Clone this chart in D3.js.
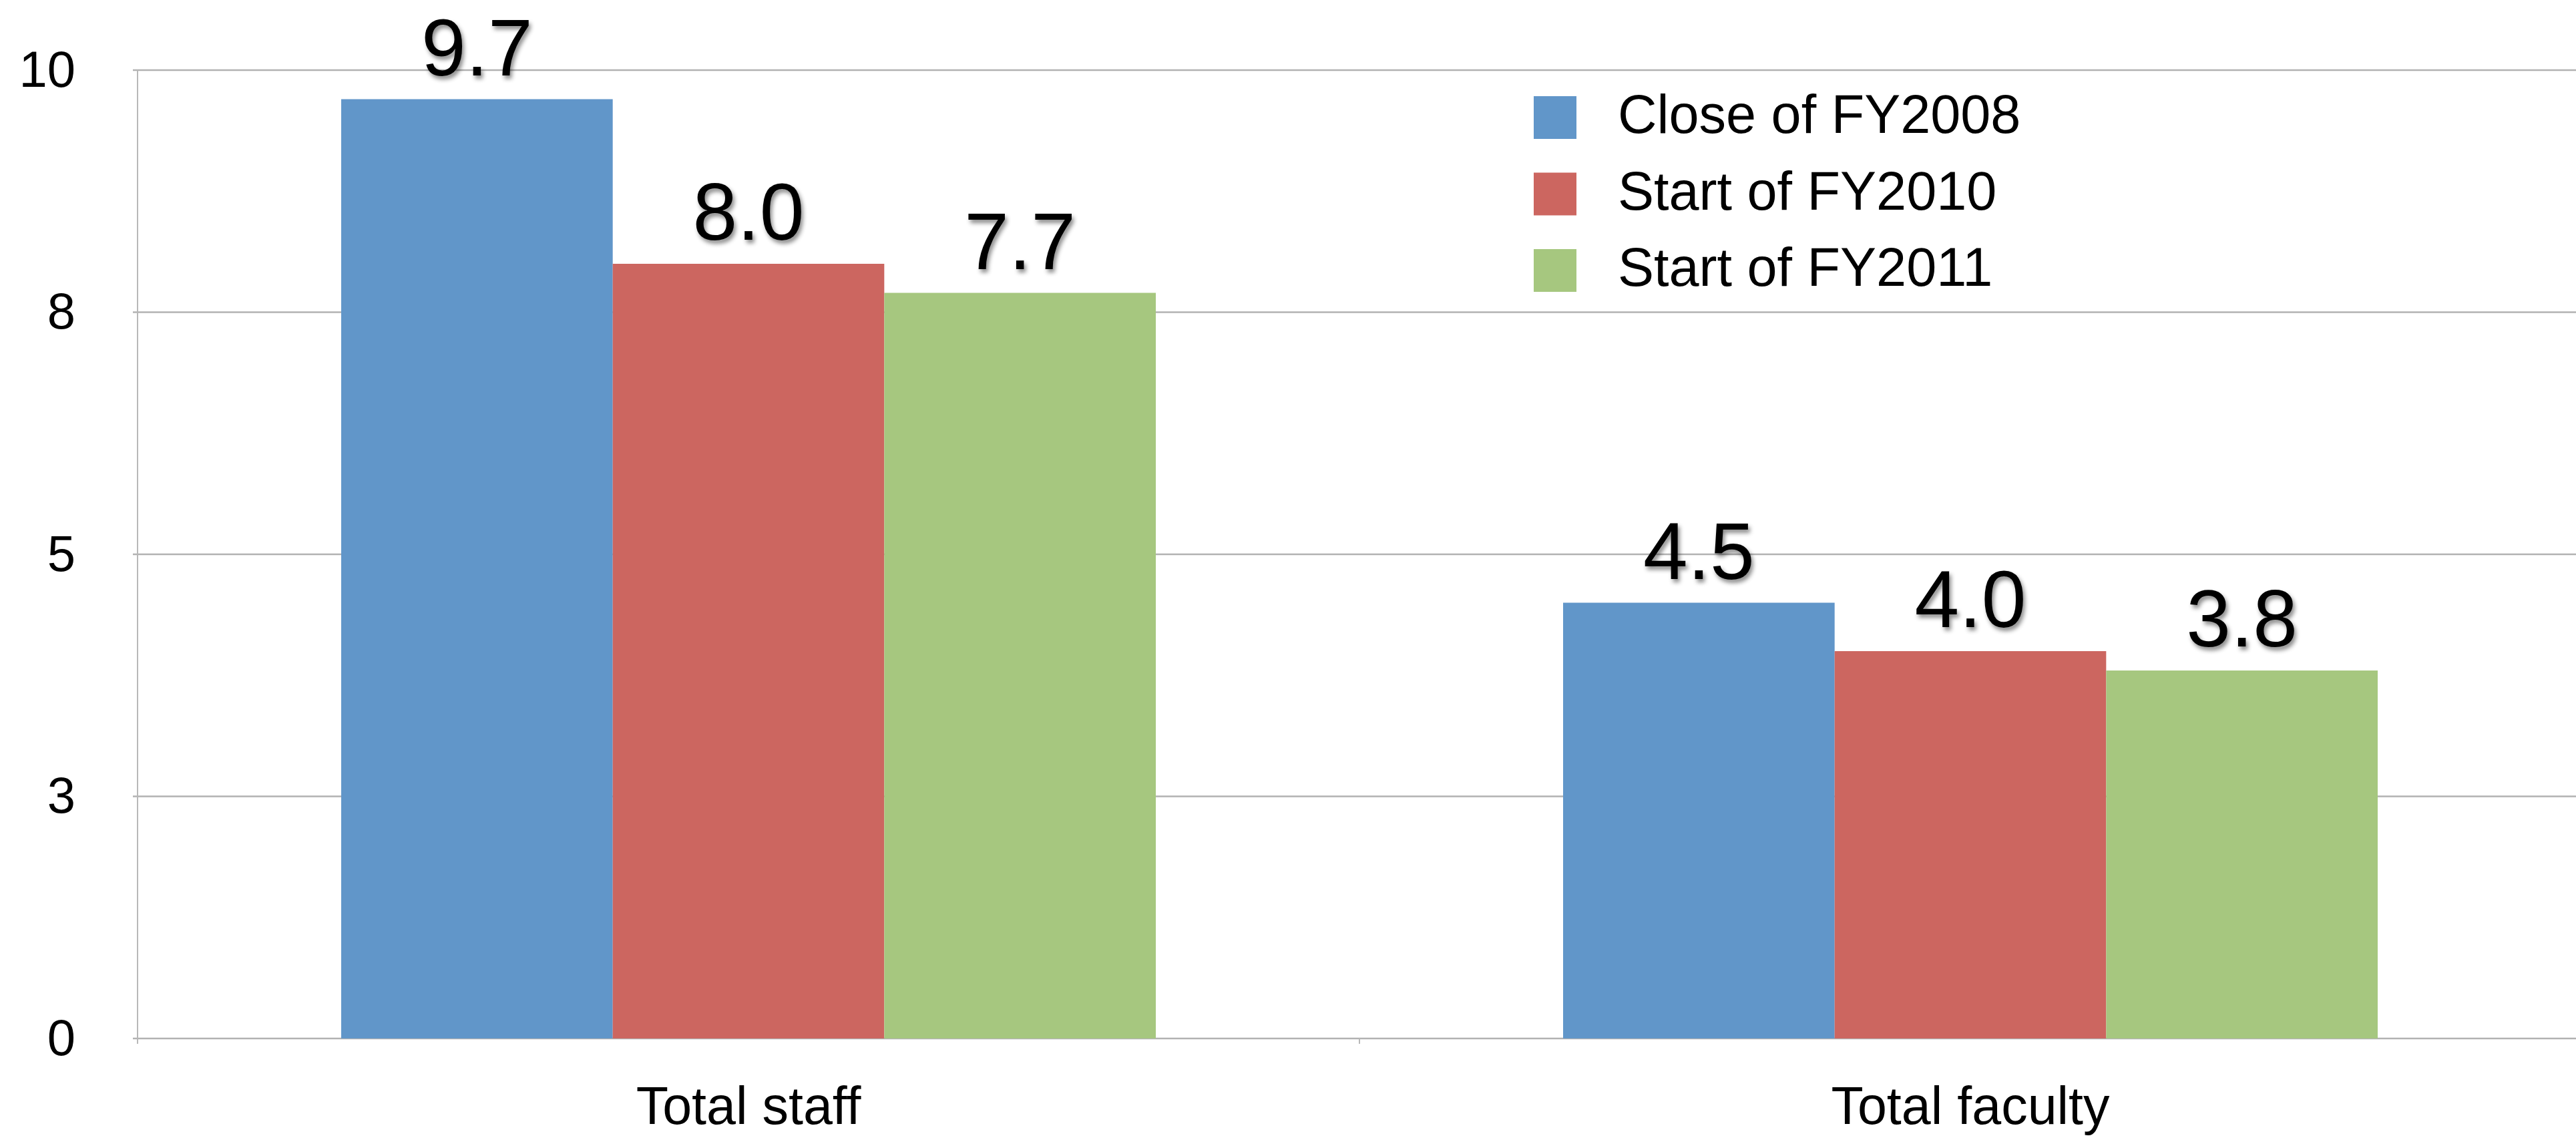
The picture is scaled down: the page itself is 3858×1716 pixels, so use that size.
<!DOCTYPE html>
<html>
<head>
<meta charset="utf-8">
<script src="https://cdn.jsdelivr.net/npm/d3@7"></script>
<style>
  body { margin: 0; background: #fff; }
  svg { display: block; font-family: "Liberation Sans", Arial, Helvetica, sans-serif; }
</style>
</head>
<body>
<div id="chart"></div>
<script>
// chart data
var categories = ["Total staff", "Total faculty"];
var seriesNames = ["Close of FY2008", "Start of FY2010", "Start of FY2011"];
var closeFY2008 = [9.7, 4.5];
var startFY2010 = [8.0, 4.0];
var startFY2011 = [7.7, 3.8];
var yTicks = [0, 2.5, 5, 7.5, 10];
var yTickLabels = ["0", "3", "5", "8", "10"];
var seriesColors = ["#6196c9", "#cc6660", "#a6c77f"];

var width = 3858, height = 1716;
var margin = { left: 206, top: 105, bottom: 161 };
var seriesValues = [closeFY2008, startFY2010, startFY2011];

var svg = d3.select("#chart").append("svg")
  .attr("width", width)
  .attr("height", height);

// soft shadow for the value labels
var defs = svg.append("defs");
defs.append("filter")
  .attr("id", "shadow")
  .attr("x", "-20%").attr("y", "-20%")
  .attr("width", "140%").attr("height", "140%")
  .append("feDropShadow")
  .attr("dx", 3).attr("dy", 5)
  .attr("stdDeviation", 3)
  .attr("flood-color", "#000")
  .attr("flood-opacity", 0.45);

var y = d3.scaleLinear()
  .domain([0, 10])
  .range([height - margin.bottom, margin.top]);

var x0 = d3.scaleBand()
  .domain(categories)
  .range([margin.left, margin.left + 2 * 1830]);

var x1 = d3.scaleBand()
  .domain(seriesNames)
  .range([0, x0.bandwidth()])
  .paddingInner(0)
  .paddingOuter(0.75);

var color = d3.scaleOrdinal().domain(seriesNames).range(seriesColors);

// gridlines
svg.append("g")
  .selectAll("line")
  .data(yTicks)
  .join("line")
  .attr("x1", margin.left - 7)
  .attr("x2", width)
  .attr("y1", function (d) { return y(d); })
  .attr("y2", function (d) { return y(d); })
  .attr("stroke", "#b2b2b2")
  .attr("stroke-width", 2.5);

// y axis labels
var yAxis = d3.axisLeft(y)
  .tickValues(yTicks)
  .tickFormat(function (d, i) { return yTickLabels[i]; })
  .tickSize(0)
  .tickPadding(93);

var gy = svg.append("g")
  .attr("transform", "translate(" + margin.left + ",0)")
  .call(yAxis);
gy.select(".domain").remove();
gy.selectAll("text")
  .attr("font-size", 76)
  .attr("fill", "#000")
  .attr("font-family", "\"Liberation Sans\", Arial, sans-serif");

// bars
var groups = svg.append("g")
  .selectAll("g")
  .data(categories)
  .join("g")
  .attr("transform", function (d) { return "translate(" + x0(d) + ",0)"; });

groups.selectAll("rect")
  .data(function (d, ci) {
    return seriesNames.map(function (s, si) { return { series: s, value: seriesValues[si][ci] }; });
  })
  .join("rect")
  .attr("x", function (d) { return x1(d.series); })
  .attr("y", function (d) { return y(d.value); })
  .attr("width", x1.bandwidth())
  .attr("height", function (d) { return y(0) - y(d.value); })
  .attr("fill", function (d) { return color(d.series); });

groups.selectAll("text.value")
  .data(function (d, ci) {
    return seriesNames.map(function (s, si) { return { series: s, value: seriesValues[si][ci] }; });
  })
  .join("text")
  .attr("class", "value")
  .attr("x", function (d) { return x1(d.series) + x1.bandwidth() / 2; })
  .attr("y", function (d) { return y(d.value) - 36; })
  .attr("text-anchor", "middle")
  .attr("font-size", 120)
  .attr("fill", "#000")
  .attr("filter", "url(#shadow)")
  .text(function (d) { return d3.format(".1f")(d.value); });

// vertical axis line
svg.append("line")
  .attr("x1", margin.left).attr("x2", margin.left)
  .attr("y1", y(10)).attr("y2", y(0) + 8)
  .attr("stroke", "#b8b8b8")
  .attr("stroke-width", 2);

// x axis
var xAxis = d3.axisBottom(x0).tickSize(0).tickPadding(72);
var gx = svg.append("g")
  .attr("transform", "translate(0," + y(0) + ")")
  .call(xAxis);
gx.select(".domain").remove();
gx.selectAll("text")
  .attr("font-size", 79)
  .attr("fill", "#000")
  .attr("dy", "0.71em")
  .attr("font-family", "\"Liberation Sans\", Arial, sans-serif");

// separators between categories
svg.append("g")
  .selectAll("line")
  .data(categories)
  .join("line")
  .attr("x1", function (d) { return x0(d); })
  .attr("x2", function (d) { return x0(d); })
  .attr("y1", y(0))
  .attr("y2", y(0) + 8)
  .attr("stroke", "#b8b8b8")
  .attr("stroke-width", 2);

// legend
var legend = svg.append("g")
  .attr("transform", "translate(2297,144)");

var items = legend.selectAll("g")
  .data(seriesNames)
  .join("g")
  .attr("transform", function (d, i) { return "translate(0," + i * 114.5 + ")"; });

items.append("rect")
  .attr("width", 64)
  .attr("height", 64)
  .attr("fill", function (d) { return color(d); });

items.append("text")
  .attr("x", 126)
  .attr("y", 55)
  .attr("font-size", 81)
  .attr("fill", "#000")
  .text(function (d) { return d; });
</script>
</body>
</html>
